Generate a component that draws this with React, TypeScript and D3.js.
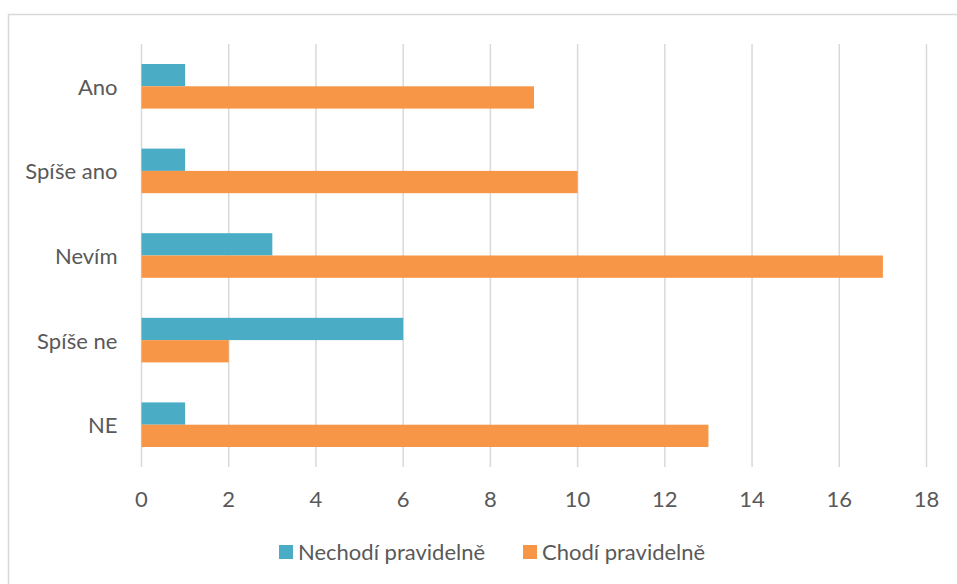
import React from "react";
import * as d3 from "d3";

const categories = ["Ano", "Spíše ano", "Nevím", "Spíše ne", "NE"];
const seriesNames = ["Nechodí pravidelně", "Chodí pravidelně"];
const nechodi = [1, 1, 3, 6, 1];
const chodi = [9, 10, 17, 2, 13];
const xTicks = [0, 2, 4, 6, 8, 10, 12, 14, 16, 18];
const seriesColors = ["#4BACC6", "#F79646"];

const W = 957;
const H = 584;
const FONT = "Lato, 'Open Sans', sans-serif";
const TEXT = "#595959";
const GRID = "#D9D9D9";

export default function App() {
  const x = d3.scaleLinear().domain([0, 18]).range([141.5, 926.5]);
  const y = d3
    .scaleBand<string>()
    .domain(categories)
    .range([44, 467])
    .paddingInner(0.473)
    .paddingOuter(0.2365);
  const inner = d3
    .scaleBand<string>()
    .domain(seriesNames)
    .range([0, y.bandwidth()]);

  const values = [nechodi, chodi];

  return (
    <svg
      width={W}
      height={H}
      style={{ position: "absolute", left: 0, top: 0, background: "#fff" }}
      fontFamily={FONT}
    >
      <rect x={8.5} y={14.5} width={1000} height={1000} fill="#fff" stroke={GRID} strokeWidth={1.5} />

      {xTicks.map((t) => (
        <line key={t} x1={x(t)} x2={x(t)} y1={44} y2={467} stroke={GRID} strokeWidth={1.5} />
      ))}

      {categories.map((c, i) => (
        <g key={c} transform={`translate(0,${y(c)})`}>
          {seriesNames.map((s, si) => (
            <rect
              key={s}
              x={x(0)}
              y={inner(s)}
              width={x(values[si][i]) - x(0)}
              height={inner.bandwidth()}
              fill={seriesColors[si]}
            />
          ))}
          <text
            x={117.5}
            y={y.bandwidth() / 2}
            textAnchor="end"
            dominantBaseline="central"
            fontSize={22}
            fill={TEXT}
          >
            {c}
          </text>
        </g>
      ))}

      {xTicks.map((t) => (
        <text
          key={t}
          x={x(t)}
          y={498}
          textAnchor="middle"
          dominantBaseline="central"
          fontSize={22}
          fill={TEXT}
        >
          {t}
        </text>
      ))}

      {seriesNames.map((s, si) => {
        const lx = si === 0 ? 279 : 523;
        return (
          <g key={s}>
            <rect x={lx} y={545} width={14} height={14} fill={seriesColors[si]} />
            <text x={lx + 19} y={551} dominantBaseline="central" fontSize={22} fill={TEXT}>
              {s}
            </text>
          </g>
        );
      })}
    </svg>
  );
}
